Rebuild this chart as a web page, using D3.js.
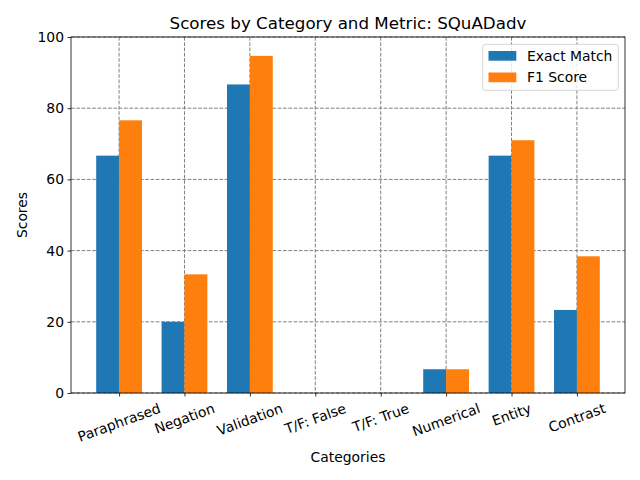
<!DOCTYPE html>
<html>
<head>
<meta charset="utf-8">
<script src="https://cdn.jsdelivr.net/npm/d3@7"></script>
<style>
  html, body { margin: 0; padding: 0; background: #fff; }
  svg { display: block; font-family: "DejaVu Sans", sans-serif; }
</style>
</head>
<body>
<svg id="chart" width="640" height="480"></svg>
<script>
const categories = ["Paraphrased", "Negation", "Validation", "T/F: False", "T/F: True", "Numerical", "Entity", "Contrast"];
const exactMatch = [66.67, 20.0, 86.67, 0, 0, 6.67, 66.67, 23.33];
const f1Score = [76.6, 33.33, 94.7, 0, 0, 6.67, 71.0, 38.4];
const seriesNames = ["Exact Match", "F1 Score"];
const seriesColors = ["#1f77b4", "#ff7f0e"];
const yTicks = [0, 20, 40, 60, 80, 100];

const svg = d3.select("#chart");
const L = 71, R = 625, T = 37, B = 393;
const barW = 0.35;

const x = d3.scaleLinear().domain([-0.735, 7.735]).range([L, R]);
const y = d3.scaleLinear().domain([0, 100]).range([B, T]);

// grid
const grid = svg.append("g");
grid.selectAll("line.h").data(yTicks).enter().append("line")
  .attr("x1", L).attr("x2", R)
  .attr("y1", d => y(d)).attr("y2", d => y(d))
  .attr("stroke", "#808080").attr("stroke-width", 1)
  .attr("stroke-dasharray", "3.7,1.6");
grid.selectAll("line.v").data(categories.map((c, i) => i)).enter().append("line")
  .attr("y1", T).attr("y2", B)
  .attr("x1", d => x(d)).attr("x2", d => x(d))
  .attr("stroke", "#808080").attr("stroke-width", 1)
  .attr("stroke-dasharray", "3.7,1.6");

// bars
const series = [exactMatch, f1Score];
series.forEach((vals, s) => {
  svg.append("g").selectAll("rect").data(vals).enter().append("rect")
    .attr("x", (d, i) => x(i + (s === 0 ? -barW : 0)))
    .attr("width", x(barW) - x(0))
    .attr("y", d => y(d))
    .attr("height", d => y(0) - y(d))
    .attr("fill", seriesColors[s]);
});

// axes frame
svg.append("rect").attr("x", L).attr("y", T).attr("width", R - L).attr("height", B - T)
  .attr("fill", "none").attr("stroke", "#000").attr("stroke-width", 0.8);

// y axis
const yAxis = d3.axisLeft(y).tickValues(yTicks).tickSize(3.5).tickPadding(3.5).tickFormat(d3.format("d"));
const yg = svg.append("g").attr("transform", `translate(${L},0)`).call(yAxis);
yg.select(".domain").remove();
yg.selectAll("text").attr("font-size", "13.9px").attr("font-family", "DejaVu Sans").attr("fill", "#000");
yg.selectAll("line").attr("stroke", "#000").attr("stroke-width", 0.8);

// x axis
const xAxis = d3.axisBottom(x).tickValues(categories.map((c, i) => i)).tickSize(3.5).tickFormat(() => "");
const xg = svg.append("g").attr("transform", `translate(0,${B})`).call(xAxis);
xg.select(".domain").remove();
xg.selectAll("line").attr("stroke", "#000").attr("stroke-width", 0.8);

// rotated x labels (matplotlib style rotation=20, ha=center)
const ang = 20 * Math.PI / 180;
categories.forEach((c, i) => {
  const t = svg.append("text").text(c)
    .attr("font-size", "13.9px").attr("font-family", "DejaVu Sans")
    .attr("text-anchor", "middle").attr("dominant-baseline", "central");
  const w = t.node().getComputedTextLength();
  const h = 16;
  const bh = w * Math.sin(ang) + h * Math.cos(ang);
  const cx = x(i), cy = B + 3.5 + 3.5 + bh / 2;
  t.attr("transform", `translate(${cx},${cy}) rotate(-20)`);
});

// title and labels
svg.append("text").attr("x", (L + R) / 2).attr("y", 29)
  .attr("text-anchor", "middle").attr("font-size", "16.7px").text("Scores by Category and Metric: SQuADadv");
svg.append("text").attr("x", (L + R) / 2).attr("y", 462)
  .attr("text-anchor", "middle").attr("font-size", "13.9px").text("Categories");
svg.append("text").attr("transform", `translate(27,${(T + B) / 2}) rotate(-90)`)
  .attr("text-anchor", "middle").attr("font-size", "13.9px").text("Scores");

// legend
const lg = svg.append("g");
lg.append("rect").attr("x", 482.7).attr("y", 44.3).attr("width", 135.6).attr("height", 46)
  .attr("rx", 2.5).attr("fill", "#fff").attr("fill-opacity", 0.8)
  .attr("stroke", "#cccccc").attr("stroke-width", 0.8);
seriesNames.forEach((n, i) => {
  const yy = 51 + i * 21.5;
  lg.append("rect").attr("x", 488.5).attr("y", yy).attr("width", 27.8).attr("height", 9.7).attr("fill", seriesColors[i]);
  lg.append("text").attr("x", 527).attr("y", yy + 4.85).attr("dominant-baseline", "central")
    .attr("font-size", "13.9px").text(n);
});
</script>
</body>
</html>
